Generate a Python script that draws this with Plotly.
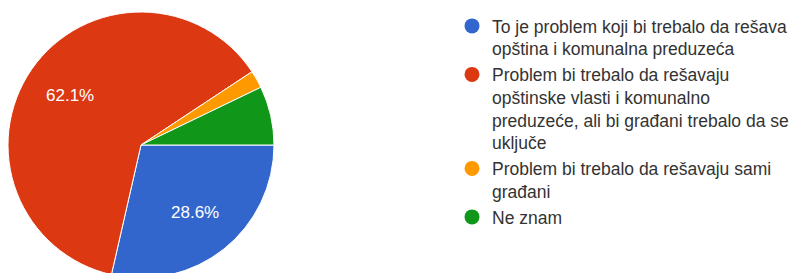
import math
import plotly.graph_objects as go

categories = [
    "To je problem koji bi trebalo da rešava<br>opština i komunalna preduzeća",
    "Problem bi trebalo da rešavaju<br>opštinske vlasti i komunalno<br>preduzeće, ali bi građani trebalo da se<br>uključe",
    "Problem bi trebalo da rešavaju sami<br>građani",
    "Ne znam",
]
counts = [40, 87, 3, 10]
colors = ["#3366cc", "#dc3912", "#ff9900", "#109618"]
show_label = [True, True, False, False]

W, H = 804, 273
# pie geometry (pixels in figure space)
R = 133
CX, CY = 133, 137          # from left / from top
dom_x = [(CX - R) / W, (CX + R) / W]
dom_y = [(H - CY - R) / H, (H - CY + R) / H]
dom_x = [max(0, dom_x[0]), min(1, dom_x[1])]
dom_y = [max(0, dom_y[0]), min(1, dom_y[1])]
ROT = 90

fig = go.Figure()
fig.add_trace(go.Pie(
    labels=categories,
    values=counts,
    sort=False,
    direction="clockwise",
    rotation=ROT,
    marker=dict(colors=colors, line=dict(color="white", width=1)),
    textinfo="none",
    showlegend=False,
    hoverinfo="label+percent",
    domain=dict(x=dom_x, y=dom_y),
))

# percentage labels placed along each slice's bisector (angles clockwise from 12 o'clock)
total = sum(counts)
start = ROT
pcx = (dom_x[0] + dom_x[1]) / 2
pcy = (dom_y[0] + dom_y[1]) / 2
rpx = min((dom_x[1] - dom_x[0]) * W, (dom_y[1] - dom_y[0]) * H) / 2
for c, show in zip(counts, show_label):
    span = c / total * 360
    mid = math.radians(start + span / 2)
    start += span
    if not show:
        continue
    d = 0.65 * rpx
    fig.add_annotation(
        x=pcx + d * math.sin(mid) / W,
        y=pcy + d * math.cos(mid) / H,
        xref="paper", yref="paper", showarrow=False,
        xanchor="center", yanchor="middle",
        text=f"{c / total * 100:.1f}%",
        font=dict(color="white", size=17, family="Liberation Sans, Arial"),
    )

for name, col in zip(categories, colors):
    fig.add_trace(go.Scatter(
        x=[None], y=[None], mode="markers", name=name,
        marker=dict(symbol="circle", size=15, color=col),
        showlegend=True,
    ))

fig.update_layout(
    width=W, height=H,
    margin=dict(l=0, r=0, t=0, b=0),
    paper_bgcolor="white", plot_bgcolor="white",
    xaxis=dict(visible=False), yaxis=dict(visible=False),
    legend=dict(
        x=444 / W, y=1.0, xanchor="left", yanchor="top",
        valign="top",
        font=dict(family="Liberation Sans, Arial", size=17.5, color="#333333"),
        bgcolor="rgba(0,0,0,0)",
        itemclick=False,
    ),
)
fig.write_html("out.html")
